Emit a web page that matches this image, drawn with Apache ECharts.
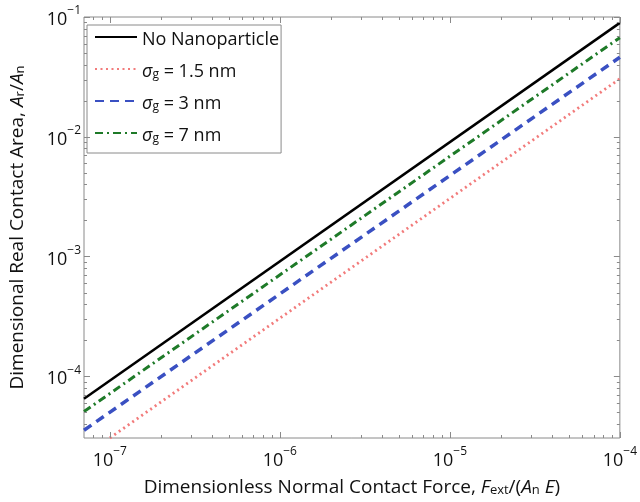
<!DOCTYPE html>
<html>
<head>
<meta charset="utf-8">
<script src="https://cdn.jsdelivr.net/npm/echarts@6/dist/echarts.min.js"></script>
<style>html,body{margin:0;padding:0;background:#fff}#c{width:640px;height:502px}</style>
</head>
<body>
<div id="c"></div>
<script>
// Data (log-log straight lines, endpoints)
const xRange = [7.05e-8, 1e-4];
const yRange = [3.05e-5, 1e-1];
const seriesNames = ['No Nanoparticle', 'σg = 1.5 nm', 'σg = 3 nm', 'σg = 7 nm'];
const noNanoX = [7.05e-8, 1e-4];
const noNanoY = [6.5e-5, 0.0893];
const sg15X = [1e-7, 1e-4];
const sg15Y = [3.05e-5, 0.0305];
const sg3X = [7.05e-8, 1e-4];
const sg3Y = [3.54e-5, 0.0461];
const sg7X = [7.05e-8, 1e-4];
const sg7Y = [5.07e-5, 0.0672];

const FONT = '"Open Sans", "DejaVu Sans", sans-serif';
const pair = (xs, ys) => xs.map((x, i) => [x, ys[i]]);

const chart = echarts.init(document.getElementById('c'), null, {renderer: 'canvas'});

function powLabel(v) {
  const e = Math.log10(v);
  const r = Math.round(e);
  if (Math.abs(e - r) > 1e-6) return '';
  return '{b|10}{s|' + (r < 0 ? '−' + (-r) : r) + '}';
}
const supRich = {
  b: {fontSize: 18, fontFamily: FONT, color: '#111', lineHeight: 24, verticalAlign: 'bottom'},
  s: {fontSize: 12, fontFamily: FONT, color: '#111', lineHeight: 14, verticalAlign: 'top'}
};
function makeRich(fs, fsSub) {
  return {
    t: {fontSize: fs, fontFamily: FONT, color: '#111', lineHeight: 24, verticalAlign: 'bottom'},
    i: {fontSize: fs, fontFamily: FONT, fontStyle: 'italic', color: '#111', lineHeight: 24, verticalAlign: 'bottom'},
    u: {fontSize: fsSub, fontFamily: FONT, color: '#111', lineHeight: 16, verticalAlign: 'bottom'}
  };
}
const nameRich = makeRich(19, 13);
const legendRich = makeRich(18, 12);

const legendFmt = {
  'No Nanoparticle': '{t|No Nanoparticle}',
  'σg = 1.5 nm': '{i|σ}{u|g}{t| = 1.5 nm}',
  'σg = 3 nm': '{i|σ}{u|g}{t| = 3 nm}',
  'σg = 7 nm': '{i|σ}{u|g}{t| = 7 nm}'
};

const option = {
  animation: false,
  backgroundColor: '#fff',
  grid: {left: 81, right: 19, top: 17, bottom: 57, show: true, borderColor: '#8a8a8a', borderWidth: 1},
  legend: {
    orient: 'vertical', left: 87, top: 25,
    padding: [6, 2, 8, 7], itemGap: 14, itemWidth: 42, itemHeight: 14,
    borderColor: '#8a8a8a', borderWidth: 1, backgroundColor: '#fff',
    itemStyle: {opacity: 0},
    data: seriesNames,
    formatter: n => legendFmt[n],
    textStyle: {rich: legendRich}
  },
  xAxis: {
    type: 'log', logBase: 10, min: xRange[0], max: xRange[1],
    axisLine: {show: false}, axisTick: {show: false}, splitLine: {show: false},
    axisLabel: {formatter: powLabel, rich: supRich, margin: 8, showMinLabel: true},
    name: '{t|Dimensionless Normal Contact Force, }{i|F}{u|ext}{t|/(}{i|A}{u|n}{t| }{i|E}{t|)}',
    nameLocation: 'middle', nameGap: 35,
    nameTextStyle: {rich: nameRich}
  },
  yAxis: {
    type: 'log', logBase: 10, min: yRange[0], max: yRange[1],
    axisLine: {show: false}, axisTick: {show: false}, splitLine: {show: false},
    axisLabel: {formatter: powLabel, rich: supRich, margin: 3},
    name: '{t|Dimensional Real Contact Area, }{i|A}{u|r}{t|/}{i|A}{u|n}',
    nameLocation: 'middle', nameGap: 57,
    nameTextStyle: {rich: nameRich}
  },
  series: [
    {name: seriesNames[0], type: 'line', data: pair(noNanoX, noNanoY), symbol: 'none', z: 5,
     lineStyle: {color: '#000', width: 2.5, type: 'solid'}, itemStyle: {color: '#000'}},
    {name: seriesNames[1], type: 'line', data: pair(sg15X, sg15Y), symbol: 'none', z: 2,
     lineStyle: {color: '#f27b7b', width: 2.8, type: [2, 3.5]}, itemStyle: {color: '#f27b7b'}},
    {name: seriesNames[2], type: 'line', data: pair(sg3X, sg3Y), symbol: 'none', z: 3,
     lineStyle: {color: '#3a50c2', width: 3.5, type: [9, 6]}, itemStyle: {color: '#3a50c2'}},
    {name: seriesNames[3], type: 'line', data: pair(sg7X, sg7Y), symbol: 'none', z: 4,
     lineStyle: {color: '#1e7a28', width: 3, type: [8, 4, 2, 4]}, itemStyle: {color: '#1e7a28'}}
  ]
};
chart.setOption(option);

// Tick marks (major + minor, inside, all four sides) placed via the axis scales
function addTicks() {
  const p0 = chart.convertToPixel({gridIndex: 0}, [xRange[0], yRange[0]]);
  const p1 = chart.convertToPixel({gridIndex: 0}, [xRange[1], yRange[1]]);
  const L = Math.min(p0[0], p1[0]), R = Math.max(p0[0], p1[0]);
  const T = Math.min(p0[1], p1[1]), B = Math.max(p0[1], p1[1]);
  const els = [];
  const st = {stroke: '#8a8a8a', lineWidth: 1};
  function vals(lo, hi) {
    const out = [];
    for (let d = Math.floor(Math.log10(lo)); d <= Math.ceil(Math.log10(hi)); d++) {
      for (let k = 1; k <= 9; k++) {
        const v = Number((k * Math.pow(10, d)).toPrecision(4));
        if (v >= lo * 0.9999 && v <= hi * 1.0001) out.push([v, k === 1]);
      }
    }
    return out;
  }
  vals(xRange[0], xRange[1]).forEach(([v, major]) => {
    const x = Math.round(chart.convertToPixel({xAxisIndex: 0}, v)) + 0.5;
    const len = major ? 6 : 3;
    els.push({type: 'line', silent: true, z: 10, shape: {x1: x, y1: B, x2: x, y2: B - len}, style: st});
    els.push({type: 'line', silent: true, z: 10, shape: {x1: x, y1: T, x2: x, y2: T + len}, style: st});
  });
  vals(yRange[0], yRange[1]).forEach(([v, major]) => {
    const y = Math.round(chart.convertToPixel({yAxisIndex: 0}, v)) + 0.5;
    const len = major ? 6 : 3;
    els.push({type: 'line', silent: true, z: 10, shape: {x1: L, y1: y, x2: L + len, y2: y}, style: st});
    els.push({type: 'line', silent: true, z: 10, shape: {x1: R, y1: y, x2: R - len, y2: y}, style: st});
  });
  chart.setOption({graphic: {elements: els}});
}
addTicks();
</script>
</body>
</html>
